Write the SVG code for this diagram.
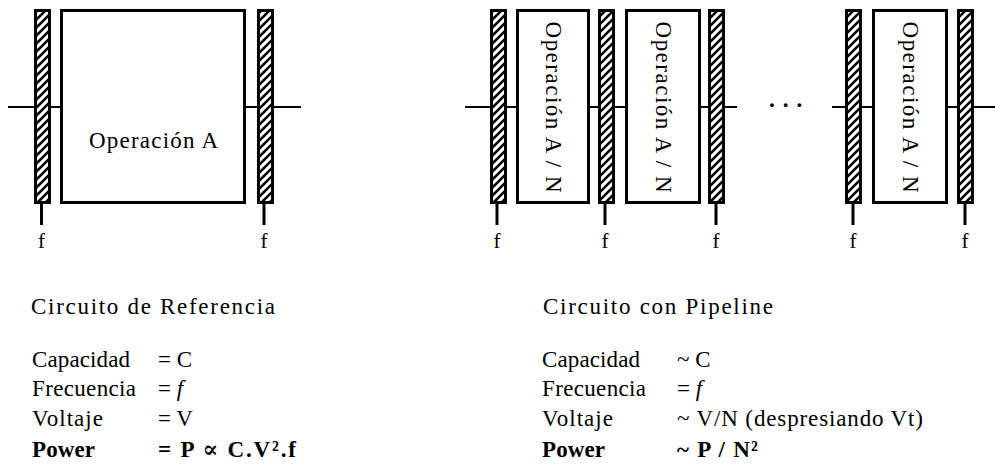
<svg xmlns="http://www.w3.org/2000/svg" width="995" height="468" viewBox="0 0 995 468">
<style>
  text { font-family: "Liberation Serif", "DejaVu Serif", serif; fill: #000; }
  .reg { fill: url(#hatch); stroke: #000; stroke-width: 3; }
  .op { fill: #fff; stroke: #000; stroke-width: 3; }
  .wire { stroke: #000; stroke-width: 2; fill: none; }
  .clk { stroke: #000; stroke-width: 3; }
  .lbl { font-size: 23px; }
  .clkl { font-size: 21px; text-anchor: middle; }
  .rot { font-size: 23px; text-anchor: middle; dominant-baseline: central; }
  .b { font-weight: bold; }
</style>
<defs>
  <pattern id="hatch" patternUnits="userSpaceOnUse" width="8" height="8">
    <rect width="8" height="8" fill="#fff"/>
    <path d="M-2,2 l4,-4 M0,8 l8,-8 M6,10 l4,-4" stroke="#000" stroke-width="2.6"/>
  </pattern>
</defs>
<rect width="995" height="468" fill="#fff"/>

<g id="connectors">
  <line class="wire" x1="8" y1="107" x2="60" y2="107"/>
  <line class="wire" x1="246" y1="107" x2="301" y2="107"/>
  <line class="wire" x1="465" y1="107" x2="516" y2="107"/>
  <line class="wire" x1="590" y1="107" x2="625" y2="107"/>
  <line class="wire" x1="701" y1="107" x2="737" y2="107"/>
  <line class="wire" x1="832" y1="107" x2="872" y2="107"/>
  <line class="wire" x1="948" y1="107" x2="995" y2="107"/>
</g>

<g id="ref-reg-in">
  <rect class="reg" x="35.5" y="10.5" width="14" height="192"/>
  <line class="clk" x1="41.5" y1="204" x2="41.5" y2="225"/>
  <text class="clkl" x="41.5" y="248">f</text>
</g>
<g id="ref-op-a">
  <rect class="op" x="61.5" y="10.5" width="183" height="192"/>
  <text class="lbl" x="89" y="148" textLength="129" lengthAdjust="spacing">Operación A</text>
</g>
<g id="ref-reg-out">
  <rect class="reg" x="258.5" y="10.5" width="14" height="192"/>
  <line class="clk" x1="264" y1="204" x2="264" y2="225"/>
  <text class="clkl" x="264" y="248">f</text>
</g>

<g id="pipe-reg-1">
  <rect class="reg" x="491.5" y="10.5" width="14" height="192"/>
  <line class="clk" x1="497" y1="204" x2="497" y2="225"/>
  <text class="clkl" x="497" y="248">f</text>
</g>
<g id="pipe-op-1">
  <rect class="op" x="517.5" y="10.5" width="71" height="192"/>
  <text class="rot" transform="translate(553,107) rotate(90)" textLength="171" lengthAdjust="spacing">Operación A / N</text>
</g>
<g id="pipe-reg-2">
  <rect class="reg" x="599.5" y="10.5" width="14" height="192"/>
  <line class="clk" x1="605" y1="204" x2="605" y2="225"/>
  <text class="clkl" x="605" y="248">f</text>
</g>
<g id="pipe-op-2">
  <rect class="op" x="626.5" y="10.5" width="73" height="192"/>
  <text class="rot" transform="translate(663,107) rotate(90)" textLength="171" lengthAdjust="spacing">Operación A / N</text>
</g>
<g id="pipe-reg-3">
  <rect class="reg" x="709.5" y="10.5" width="14" height="192"/>
  <line class="clk" x1="716" y1="204" x2="716" y2="225"/>
  <text class="clkl" x="716" y="248">f</text>
</g>
<g id="ellipsis">
  <text class="lbl b" x="769" y="107" letter-spacing="8">...</text>
</g>
<g id="pipe-reg-4">
  <rect class="reg" x="846.5" y="10.5" width="14" height="192"/>
  <line class="clk" x1="853" y1="204" x2="853" y2="225"/>
  <text class="clkl" x="853" y="248">f</text>
</g>
<g id="pipe-op-n">
  <rect class="op" x="873.5" y="10.5" width="73" height="192"/>
  <text class="rot" transform="translate(910,107) rotate(90)" textLength="171" lengthAdjust="spacing">Operación A / N</text>
</g>
<g id="pipe-reg-5">
  <rect class="reg" x="958.5" y="10.5" width="14" height="192"/>
  <line class="clk" x1="965" y1="204" x2="965" y2="225"/>
  <text class="clkl" x="965" y="248">f</text>
</g>

<g id="ref-summary">
  <text class="lbl" x="31" y="314" textLength="244" lengthAdjust="spacing">Circuito de Referencia</text>
  <text class="lbl" x="32" y="367" textLength="98" lengthAdjust="spacing">Capacidad</text>
  <text class="lbl" x="158" y="367">= C</text>
  <text class="lbl" x="32" y="396" textLength="104" lengthAdjust="spacing">Frecuencia</text>
  <text class="lbl" x="158" y="396">= <tspan font-style="italic">f</tspan></text>
  <text class="lbl" x="32" y="426" textLength="71" lengthAdjust="spacing">Voltaje</text>
  <text class="lbl" x="158" y="426">= V</text>
  <text class="lbl b" x="32" y="457" textLength="63" lengthAdjust="spacing">Power</text>
  <text class="lbl b" x="158" y="457" textLength="138" lengthAdjust="spacing">= P ∝ C.V².f</text>
</g>

<g id="pipe-summary">
  <text class="lbl" x="543" y="314" textLength="230" lengthAdjust="spacing">Circuito con Pipeline</text>
  <text class="lbl" x="542" y="367" textLength="98" lengthAdjust="spacing">Capacidad</text>
  <text class="lbl" x="677" y="367">~ C</text>
  <text class="lbl" x="542" y="396" textLength="104" lengthAdjust="spacing">Frecuencia</text>
  <text class="lbl" x="677" y="396">= <tspan font-style="italic">f</tspan></text>
  <text class="lbl" x="542" y="426" textLength="71" lengthAdjust="spacing">Voltaje</text>
  <text class="lbl" x="677" y="426" textLength="246" lengthAdjust="spacing">~ V/N (despresiando Vt)</text>
  <text class="lbl b" x="542" y="457" textLength="63" lengthAdjust="spacing">Power</text>
  <text class="lbl b" x="677" y="457" textLength="81" lengthAdjust="spacing">~ P / N²</text>
</g>
</svg>
